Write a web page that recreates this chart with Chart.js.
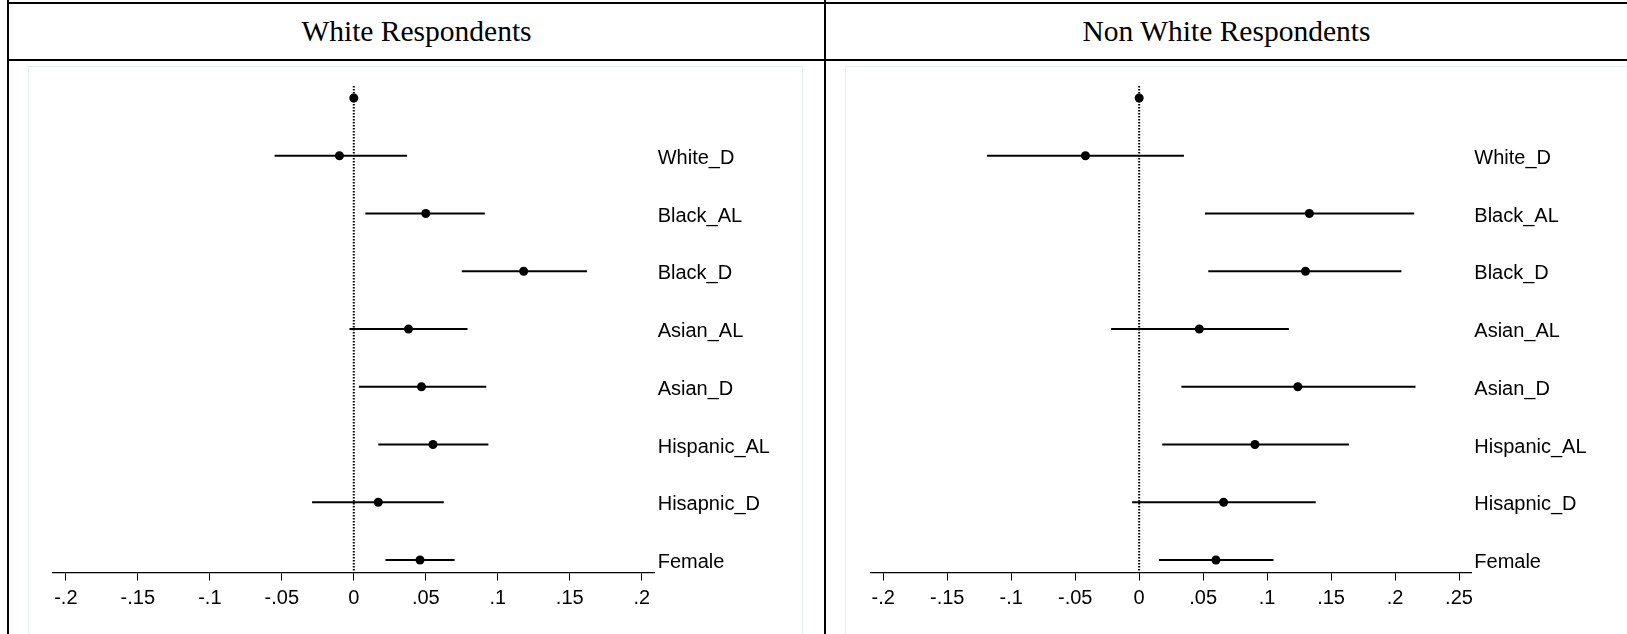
<!DOCTYPE html>
<html lang="en">

<head>
    <meta charset="UTF-8">
    <script src="https://cdn.jsdelivr.net/npm/chart.js"></script>
    <title>Coefficient plot</title>
    <style>
        body {
            margin: 0;
            width: 1627px;
            height: 634px;
            background: #ffffff;
            position: relative;
            overflow: hidden;
        }

        .rule {
            position: absolute;
            background: #000000;
        }

        .panel-title {
            position: absolute;
            top: 15px;
            font-family: "Liberation Serif", "Times New Roman", serif;
            font-size: 29.5px;
            text-align: center;
            color: #000000;
        }

        .plotbox {
            position: absolute;
            top: 66px;
            height: 580px;
            border: 1px solid #e6eeee;
            background: #ffffff;
        }

        canvas {
            position: absolute;
        }
    </style>
</head>

<body>
    <!-- frame -->
    <div class="rule" style="left:7px; top:2px; width:1620px; height:2px;"></div>
    <div class="rule" style="left:7px; top:0; width:2px; height:634px;"></div>
    <div class="rule" style="left:824px; top:0; width:2px; height:634px;"></div>
    <div class="rule" style="left:7px; top:59px; width:1620px; height:2px;"></div>

    <div class="panel-title" style="left:9px; width:815px;">White Respondents</div>
    <div class="panel-title" style="left:826px; width:801px;">Non White Respondents</div>

    <div class="plotbox" style="left:28px; width:773px;"></div>
    <div class="plotbox" style="left:845px; width:790px;"></div>

    <canvas id="whiteChart" width="774" height="568" style="left:28px; top:66px;"></canvas>
    <canvas id="nonWhiteChart" width="781" height="568" style="left:846px; top:66px;"></canvas>

    <script>
        // rows, top to bottom (first row is the reference category)
        const rowLabels = ['', 'White_D', 'Black_AL', 'Black_D', 'Asian_AL', 'Asian_D', 'Hispanic_AL', 'Hisapnic_D', 'Female'];

        // White respondents
        const whiteEst = [0, -0.010, 0.050, 0.118, 0.038, 0.047, 0.055, 0.017, 0.046];
        const whiteLo = [null, -0.055, 0.008, 0.075, -0.003, 0.0035, 0.017, -0.029, 0.022];
        const whiteHi = [null, 0.037, 0.091, 0.162, 0.079, 0.092, 0.0935, 0.0625, 0.070];

        // Non white respondents
        const nonWhiteEst = [0, -0.042, 0.133, 0.130, 0.047, 0.124, 0.0905, 0.066, 0.060];
        const nonWhiteLo = [null, -0.119, 0.0514, 0.054, -0.022, 0.033, 0.018, -0.0055, 0.0154];
        const nonWhiteHi = [null, 0.035, 0.215, 0.205, 0.117, 0.216, 0.164, 0.138, 0.105];

        // x axis ticks
        const whiteTicks = [-0.2, -0.15, -0.1, -0.05, 0, 0.05, 0.1, 0.15, 0.2];
        const whiteTickLabels = ['-.2', '-.15', '-.1', '-.05', '0', '.05', '.1', '.15', '.2'];
        const nonWhiteTicks = [-0.2, -0.15, -0.1, -0.05, 0, 0.05, 0.1, 0.15, 0.2, 0.25];
        const nonWhiteTickLabels = ['-.2', '-.15', '-.1', '-.05', '0', '.05', '.1', '.15', '.2', '.25'];

        const yMin = -0.208;
        const yMax = 8.216;
        const labelFont = { family: '"Liberation Sans", Arial, sans-serif', size: 20 };

        function makeChart(canvasId, est, lo, hi, ticks, tickLabels, xMin, xMax, yAxisWidth, padLeft) {
            // confidence interval segments, one per row
            const ciSets = [];
            est.forEach((e, i) => {
                if (lo[i] === null) return;
                ciSets.push({
                    type: 'line',
                    data: [{ x: lo[i], y: i }, { x: hi[i], y: i }],
                    borderColor: '#000000',
                    borderWidth: 2,
                    pointRadius: 0,
                    showLine: true
                });
            });

            // dotted reference line at zero
            const zeroLine = {
                type: 'line',
                data: [{ x: 0, y: yMin }, { x: 0, y: yMax }],
                borderColor: '#000000',
                borderWidth: 2,
                borderDash: [1.5, 1.5],
                pointRadius: 0,
                showLine: true
            };

            const points = {
                type: 'scatter',
                data: est.map((e, i) => ({ x: e, y: i })),
                backgroundColor: '#000000',
                borderWidth: 0,
                pointRadius: 4.5
            };

            const ctx = document.getElementById(canvasId).getContext('2d');
            return new Chart(ctx, {
                type: 'scatter',
                data: { datasets: [zeroLine, ...ciSets, points] },
                options: {
                    responsive: false,
                    animation: false,
                    devicePixelRatio: 1,
                    layout: { padding: { left: padLeft, top: 20, right: 0, bottom: 0 } },
                    plugins: {
                        legend: { display: false },
                        tooltip: { enabled: false }
                    },
                    scales: {
                        x: {
                            type: 'linear',
                            min: xMin,
                            max: xMax,
                            afterBuildTicks: (scale) => {
                                scale.ticks = ticks.map(v => ({ value: v }));
                            },
                            afterFit: (scale) => {
                                scale.height = 61.5;
                            },
                            ticks: {
                                autoSkip: false,
                                maxRotation: 0,
                                padding: 6,
                                color: '#000000',
                                font: labelFont,
                                callback: (value, index) => tickLabels[index]
                            },
                            grid: {
                                drawOnChartArea: false,
                                drawTicks: true,
                                tickLength: 8,
                                color: '#000000',
                                lineWidth: 1
                            },
                            border: { display: true, color: '#000000', width: 1.3 }
                        },
                        y: {
                            type: 'linear',
                            position: 'right',
                            reverse: true,
                            min: yMin,
                            max: yMax,
                            afterBuildTicks: (scale) => {
                                scale.ticks = rowLabels.map((_, i) => ({ value: i }));
                            },
                            afterFit: (scale) => {
                                scale.width = yAxisWidth;
                            },
                            ticks: {
                                autoSkip: false,
                                padding: 3,
                                labelOffset: 2.5,
                                color: '#000000',
                                font: labelFont,
                                callback: (value) => rowLabels[Math.round(value)]
                            },
                            grid: { display: false, drawTicks: false },
                            border: { display: false }
                        }
                    }
                }
            });
        }

        makeChart('whiteChart', whiteEst, whiteLo, whiteHi, whiteTicks, whiteTickLabels, -0.209, 0.209, 147.3, 24.9);
        makeChart('nonWhiteChart', nonWhiteEst, nonWhiteLo, nonWhiteHi, nonWhiteTicks, nonWhiteTickLabels, -0.210, 0.2596, 155.7, 24.5);
    </script>
</body>
</html>
